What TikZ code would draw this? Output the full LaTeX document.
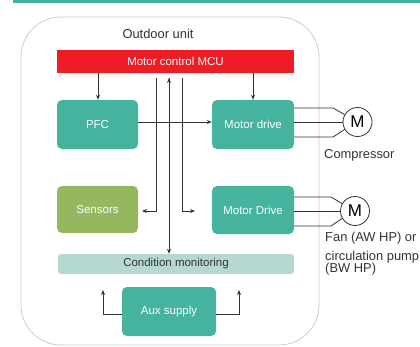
\documentclass[tikz,border=0pt]{standalone}
\usepackage{fontspec}
\setmainfont{Liberation Sans}
\usetikzlibrary{arrows.meta}
\definecolor{teal1}{HTML}{45B39E}
\definecolor{red1}{HTML}{EE1D25}
\definecolor{green1}{HTML}{97B660}
\definecolor{cond}{HTML}{B5D9D1}
\definecolor{frame}{HTML}{D5C8C8}
\definecolor{ln}{HTML}{333333}
\tikzset{
  x=1pt, y=-1pt,
  bfont/.style={font=\fontsize{11.5}{13}\selectfont},
  blk/.style={fill=teal1, rounded corners=5pt, text=white, bfont},
  wire/.style={draw=ln, line width=0.8pt},
  arr/.style={wire, -{Stealth[length=5pt,width=4pt]}},
  motor/.style={circle, draw=ln, line width=0.8pt, fill=white, minimum size=29pt, inner sep=0pt, font=\fontsize{17}{17}\selectfont},
  lbl/.style={font=\fontsize{12.9}{14}\selectfont, text=ln, anchor=west, inner sep=0pt}
}
\begin{document}
\begin{tikzpicture}
\useasboundingbox (0,0) rectangle (420,346);
\fill[teal1] (13,0) rectangle (420,3);
\draw[frame, line width=0.8pt, rounded corners=40pt] (21,17) rectangle (319,345);
\node[text=ln, font=\fontsize{12.9}{14}\selectfont] (title) at (158,34) {Outdoor unit};
\node[fill=red1, text=white, bfont, minimum width=237pt, minimum height=23pt, inner sep=0pt] (mcu) at (175.5,61.5) {Motor control MCU};
\node[blk, minimum width=81pt, minimum height=49pt, inner sep=0pt] (pfc) at (97.5,124.5) {PFC};
\node[blk, minimum width=82pt, minimum height=49pt, inner sep=0pt] (md1) at (253,124.5) {Motor drive};
\node[blk, fill=green1, minimum width=81pt, minimum height=47pt, inner sep=0pt] (sens) at (97.5,209.5) {Sensors};
\node[blk, minimum width=82pt, minimum height=48pt, inner sep=0pt] (md2) at (253,210) {Motor Drive};
\node[fill=cond, rounded corners=3pt, text=ln, bfont, minimum width=236pt, minimum height=20pt, inner sep=0pt] (cm) at (176,264) {Condition monitoring};
\node[blk, minimum width=94pt, minimum height=49pt, inner sep=0pt] (aux) at (169,311.5) {Aux supply};
% motors
\node[motor] (m1) at (357.5,122) {M};
\node[motor] (m2) at (355,211) {M};
\node[lbl] (comp) at (324,155) {Compressor};
\node[lbl] (fan) at (325,238) {Fan (AW HP) or};
\node[lbl] (circ) at (325,257) {circulation pump};
\node[lbl] (bw) at (325,269) {(BW HP)};
% arrows from MCU
\draw[arr] (98,73) -- (pfc.north -| 98,0);
\draw[arr] (253,73) -- (md1.north);
\draw[arr] (pfc.east |- 0,122) -- (md1.west |- 0,122);
% bus lines
\coordinate (b1) at (156,78);
\coordinate (b2) at (169,78);
\coordinate (b3) at (182,78);
\draw[arr] (b1) -- (156,211) -- (142,211);
\draw[arr] (b3) -- (182,211) -- (195,211);
\draw[arr] (169,251) -- (b2);
\draw[arr] (b2) -- (cm.north -| b2);
% aux supply
\draw[arr] (aux.west |- 0,314) -- (103,314) -- (103,290);
\draw[arr] (aux.east |- 0,314) -- (239,314) -- (239,290);
% motor wires
\draw[wire] (md1.east |- 0,108) -- (333,108) -- (m1.150);
\draw[wire] (md1.east |- 0,122) -- (m1.west);
\draw[wire] (md1.east |- 0,137) -- (333,137) -- (m1.210);
\draw[wire] (md2.east |- 0,197) -- (331,197) -- (m2.150);
\draw[wire] (md2.east |- 0,211) -- (m2.west);
\draw[wire] (md2.east |- 0,226) -- (331,226) -- (m2.210);
\end{tikzpicture}
\end{document}
